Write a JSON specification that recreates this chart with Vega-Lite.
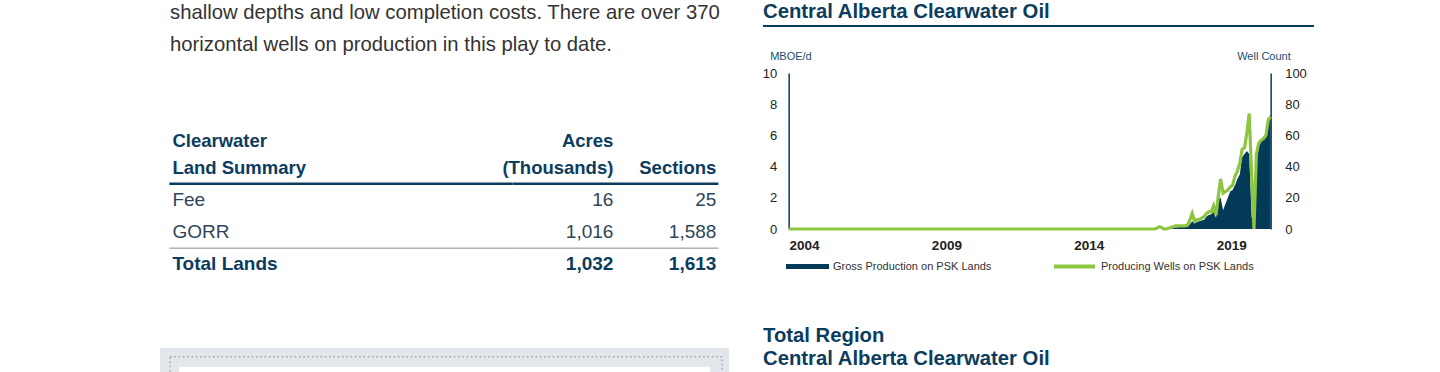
{
  "$schema": "https://vega.github.io/schema/vega-lite/v6.json",
  "padding": {"left": 160, "top": 0, "right": 0, "bottom": 0},
  "config": {
    "font": "Liberation Sans",
    "view": {"stroke": null},
    "axis": {"labelFont": "Liberation Sans", "titleFont": "Liberation Sans"},
    "legend": {"labelFont": "Liberation Sans", "labelFontSize": 11, "labelColor": "#333333", "padding": 0, "labelOffset": 4, "title": null}
  },
  "datasets": {
    "paragraph": [
      {"line": "1", "text": "shallow depths and low completion costs. There are over 370"},
      {"line": "2", "text": "horizontal wells on production in this play to date."}
    ],
    "header": [
      {"row": "header", "label": ["Clearwater", "Land Summary"], "acres": ["Acres", "(Thousands)"], "sections": ["", "Sections"]}
    ],
    "land": [
      {"row": "Fee", "label": "Fee", "acres": 16, "sections": 25},
      {"row": "GORR", "label": "GORR", "acres": 1016, "sections": 1588},
      {"row": "Total Lands", "label": "Total Lands", "acres": 1032, "sections": 1613}
    ],
    "rules": [{"after": "header"}, {"after": "GORR"}],
    "panel": [{"panel": "box"}],
    "headings": [{"title": "Central Alberta Clearwater Oil"}],
    "headings2": [{"title": ["Total Region", "Central Alberta Clearwater Oil"]}],
    "production": [
      {"date": "2004-01-01", "prod": 0, "wells": 0},
      {"date": "2005-01-01", "prod": 0, "wells": 0},
      {"date": "2006-01-01", "prod": 0, "wells": 0},
      {"date": "2007-01-01", "prod": 0, "wells": 0},
      {"date": "2008-01-01", "prod": 0, "wells": 0},
      {"date": "2009-01-01", "prod": 0, "wells": 0},
      {"date": "2010-01-01", "prod": 0, "wells": 0},
      {"date": "2011-01-01", "prod": 0, "wells": 0},
      {"date": "2012-01-01", "prod": 0, "wells": 0},
      {"date": "2013-01-01", "prod": 0, "wells": 0},
      {"date": "2014-01-01", "prod": 0, "wells": 0},
      {"date": "2015-01-01", "prod": 0, "wells": 0},
      {"date": "2016-01-01", "prod": 0, "wells": 0},
      {"date": "2016-02-01", "prod": 0, "wells": 0},
      {"date": "2016-03-01", "prod": 0, "wells": 0},
      {"date": "2016-04-01", "prod": 0, "wells": 0},
      {"date": "2016-05-01", "prod": 0, "wells": 0},
      {"date": "2016-06-01", "prod": 0, "wells": 0},
      {"date": "2016-07-01", "prod": 0, "wells": 0},
      {"date": "2016-08-01", "prod": 0, "wells": 0},
      {"date": "2016-09-01", "prod": 0, "wells": 0},
      {"date": "2016-10-01", "prod": 0, "wells": 0},
      {"date": "2016-11-01", "prod": 0, "wells": 0},
      {"date": "2016-12-01", "prod": 0, "wells": 0.5},
      {"date": "2017-01-01", "prod": 0, "wells": 1.5},
      {"date": "2017-02-01", "prod": 0, "wells": 1},
      {"date": "2017-03-01", "prod": 0, "wells": 0},
      {"date": "2017-04-01", "prod": 0, "wells": 0},
      {"date": "2017-05-01", "prod": 0.02, "wells": 0.5},
      {"date": "2017-06-01", "prod": 0.05, "wells": 1},
      {"date": "2017-07-01", "prod": 0.08, "wells": 1.5},
      {"date": "2017-08-01", "prod": 0.1, "wells": 2},
      {"date": "2017-09-01", "prod": 0.12, "wells": 2},
      {"date": "2017-10-01", "prod": 0.15, "wells": 2},
      {"date": "2017-11-01", "prod": 0.15, "wells": 2},
      {"date": "2017-12-01", "prod": 0.18, "wells": 2},
      {"date": "2018-01-01", "prod": 0.2, "wells": 2.5},
      {"date": "2018-02-01", "prod": 0.3, "wells": 6},
      {"date": "2018-03-01", "prod": 0.5, "wells": 10},
      {"date": "2018-04-01", "prod": 0.35, "wells": 5},
      {"date": "2018-05-01", "prod": 0.45, "wells": 6},
      {"date": "2018-06-01", "prod": 0.5, "wells": 6},
      {"date": "2018-07-01", "prod": 0.55, "wells": 7},
      {"date": "2018-08-01", "prod": 0.6, "wells": 8},
      {"date": "2018-09-01", "prod": 0.8, "wells": 10},
      {"date": "2018-10-01", "prod": 0.9, "wells": 11},
      {"date": "2018-11-01", "prod": 0.95, "wells": 11},
      {"date": "2018-12-01", "prod": 1.1, "wells": 15},
      {"date": "2019-01-01", "prod": 0.7, "wells": 9},
      {"date": "2019-02-01", "prod": 1.9, "wells": 22},
      {"date": "2019-03-01", "prod": 2.0, "wells": 32},
      {"date": "2019-04-01", "prod": 1.2, "wells": 23},
      {"date": "2019-05-01", "prod": 1.6, "wells": 24},
      {"date": "2019-06-01", "prod": 2.0, "wells": 25},
      {"date": "2019-07-01", "prod": 2.4, "wells": 27},
      {"date": "2019-08-01", "prod": 2.5, "wells": 28},
      {"date": "2019-09-01", "prod": 2.8, "wells": 34},
      {"date": "2019-10-01", "prod": 3.2, "wells": 37},
      {"date": "2019-11-01", "prod": 3.5, "wells": 42},
      {"date": "2019-12-01", "prod": 4.6, "wells": 51},
      {"date": "2020-01-01", "prod": 4.8, "wells": 52},
      {"date": "2020-02-01", "prod": 5.0, "wells": 62},
      {"date": "2020-03-01", "prod": 4.8, "wells": 74},
      {"date": "2020-04-01", "prod": 0.8, "wells": 35},
      {"date": "2020-05-01", "prod": 0, "wells": 0},
      {"date": "2020-06-01", "prod": 4.3, "wells": 48},
      {"date": "2020-07-01", "prod": 5.3, "wells": 55},
      {"date": "2020-08-01", "prod": 5.7, "wells": 57},
      {"date": "2020-09-01", "prod": 5.9, "wells": 58},
      {"date": "2020-10-01", "prod": 6.1, "wells": 60},
      {"date": "2020-11-01", "prod": 6.8, "wells": 70},
      {"date": "2020-12-01", "prod": 7.4, "wells": 72}
    ]
  },
  "bounds": "full",
  "spacing": 33,
  "hconcat": [
    {
      "bounds": "full",
      "center": true,
      "spacing": 67.4,
      "vconcat": [
        {
          "width": 569,
          "height": 64,
          "data": {"name": "paragraph"},
          "mark": {"type": "text", "align": "left", "baseline": "middle", "fontSize": 20.3, "color": "#333333", "dx": 10, "dy": -3},
          "encoding": {
            "x": {"datum": 0, "type": "quantitative", "scale": {"domain": [0, 1]}, "axis": null},
            "y": {"field": "line", "type": "nominal", "scale": {"domain": ["1", "2"], "paddingInner": 0, "paddingOuter": 0}, "axis": null},
            "text": {"field": "text"}
          }
        },
        {
          "bounds": "flush",
          "spacing": 0,
          "hconcat": [
            {
              "width": 343,
              "height": 129,
              "layer": [
                {
                  "data": {"name": "header"},
                  "mark": {"type": "text", "align": "left", "baseline": "middle", "fontSize": 18.5, "fontWeight": "bold", "color": "#0c3c5e", "dx": 3, "dy": -27, "lineHeight": 27},
                  "encoding": {
                    "x": {"datum": 0, "type": "quantitative", "scale": {"domain": [0, 1]}, "axis": null},
                    "y": {"field": "row", "type": "nominal", "scale": {"domain": ["header", "Fee", "GORR", "Total Lands"], "paddingInner": 0, "paddingOuter": 0}, "axis": null},
                    "text": {"field": "label"}
                  }
                },
                {
                  "data": {"name": "land"},
                  "transform": [{"filter": "datum.row !== 'Total Lands'"}],
                  "mark": {"type": "text", "align": "left", "baseline": "middle", "fontSize": 19, "color": "#2e4559", "dx": 3},
                  "encoding": {
                    "x": {"datum": 0, "type": "quantitative", "scale": {"domain": [0, 1]}, "axis": null},
                    "y": {"field": "row", "type": "nominal", "axis": null},
                    "text": {"field": "label"}
                  }
                },
                {
                  "data": {"name": "land"},
                  "transform": [{"filter": "datum.row === 'Total Lands'"}],
                  "mark": {"type": "text", "align": "left", "baseline": "middle", "fontSize": 19, "fontWeight": "bold", "color": "#0c3c5e", "dx": 3},
                  "encoding": {
                    "x": {"datum": 0, "type": "quantitative", "scale": {"domain": [0, 1]}, "axis": null},
                    "y": {"field": "row", "type": "nominal", "axis": null},
                    "text": {"field": "label"}
                  }
                },
                {
                  "data": {"name": "rules"},
                  "mark": {"type": "rule"},
                  "encoding": {
                    "y": {"field": "after", "type": "nominal", "bandPosition": 1, "axis": null},
                    "strokeWidth": {"field": "after", "type": "nominal", "scale": {"domain": ["header", "GORR"], "range": [2.5, 1]}, "legend": null},
                    "color": {"field": "after", "type": "nominal", "scale": {"domain": ["header", "GORR"], "range": ["#0c3c5e", "#8a8a8a"]}, "legend": null}
                  }
                }
              ]
            },
            {
              "width": 206,
              "height": 129,
              "layer": [
                {
                  "data": {"name": "header"},
                  "transform": [{"fold": ["acres", "sections"], "as": ["col", "value"]}],
                  "mark": {"type": "text", "align": "right", "baseline": "middle", "fontSize": 18.5, "fontWeight": "bold", "color": "#0c3c5e", "dx": 49.5, "dy": -27, "lineHeight": 27},
                  "encoding": {
                    "x": {"field": "col", "type": "nominal", "scale": {"domain": ["acres", "sections"], "paddingInner": 0, "paddingOuter": 0}, "axis": null},
                    "y": {"field": "row", "type": "nominal", "scale": {"domain": ["header", "Fee", "GORR", "Total Lands"], "paddingInner": 0, "paddingOuter": 0}, "axis": null},
                    "text": {"field": "value"}
                  }
                },
                {
                  "data": {"name": "land"},
                  "transform": [{"filter": "datum.row !== 'Total Lands'"}, {"fold": ["acres", "sections"], "as": ["col", "value"]}],
                  "mark": {"type": "text", "align": "right", "baseline": "middle", "fontSize": 19, "color": "#2e4559", "dx": 49.5},
                  "encoding": {
                    "x": {"field": "col", "type": "nominal", "axis": null},
                    "y": {"field": "row", "type": "nominal", "axis": null},
                    "text": {"field": "value", "type": "quantitative", "format": ","}
                  }
                },
                {
                  "data": {"name": "land"},
                  "transform": [{"filter": "datum.row === 'Total Lands'"}, {"fold": ["acres", "sections"], "as": ["col", "value"]}],
                  "mark": {"type": "text", "align": "right", "baseline": "middle", "fontSize": 19, "fontWeight": "bold", "color": "#0c3c5e", "dx": 49.5},
                  "encoding": {
                    "x": {"field": "col", "type": "nominal", "axis": null},
                    "y": {"field": "row", "type": "nominal", "axis": null},
                    "text": {"field": "value", "type": "quantitative", "format": ","}
                  }
                },
                {
                  "data": {"name": "rules"},
                  "mark": {"type": "rule"},
                  "encoding": {
                    "y": {"field": "after", "type": "nominal", "bandPosition": 1, "axis": null},
                    "strokeWidth": {"field": "after", "type": "nominal", "scale": {"domain": ["header", "GORR"], "range": [2.5, 1]}, "legend": null},
                    "color": {"field": "after", "type": "nominal", "scale": {"domain": ["header", "GORR"], "range": ["#0c3c5e", "#8a8a8a"]}, "legend": null}
                  }
                }
              ]
            }
          ]
        },
        {
          "width": 569,
          "height": 60,
          "view": {"fill": "#e3e6ea", "stroke": null},
          "data": {"name": "panel"},
          "layer": [
            {
              "mark": {"type": "rect", "filled": false, "stroke": "#9aa6b0", "strokeWidth": 1.5, "strokeDash": [1.5, 2.8]},
              "encoding": {
                "x": {"datum": 0.0176, "type": "quantitative", "scale": {"domain": [0, 1]}, "axis": null},
                "x2": {"datum": 0.9877},
                "y": {"datum": 0.15, "type": "quantitative", "scale": {"domain": [0, 1], "reverse": true}, "axis": null},
                "y2": {"datum": 1}
              }
            },
            {
              "mark": {"type": "rect", "color": "#ffffff"},
              "encoding": {
                "x": {"datum": 0.0334, "type": "quantitative", "axis": null},
                "x2": {"datum": 0.9666},
                "y": {"datum": 0.317, "type": "quantitative", "axis": null},
                "y2": {"datum": 1}
              }
            }
          ]
        }
      ]
    },
    {
      "bounds": "full",
      "center": true,
      "spacing": 23,
      "vconcat": [
        {
          "width": 569,
          "height": 27,
          "data": {"name": "headings"},
          "layer": [
            {
              "mark": {"type": "text", "align": "left", "baseline": "middle", "fontSize": 20.3, "fontWeight": "bold", "color": "#0c3c5e", "dx": 0},
              "encoding": {
                "x": {"datum": 0, "type": "quantitative", "scale": {"domain": [0, 1]}, "axis": null},
                "y": {"datum": 0.44, "type": "quantitative", "scale": {"domain": [0, 1], "reverse": true}, "axis": null},
                "text": {"field": "title"}
              }
            },
            {
              "mark": {"type": "rule", "color": "#0c3c5e", "strokeWidth": 2},
              "encoding": {
                "x": {"datum": 0, "type": "quantitative"},
                "x2": {"datum": 0.9684},
                "y": {"datum": 0.96, "type": "quantitative", "axis": null}
              }
            }
          ]
        },
        {
          "width": 482,
          "height": 156,
          "data": {"name": "production"},
          "layer": [
            {
              "mark": {"type": "area", "interpolate": "linear"},
              "encoding": {
                "x": {
                  "field": "date", "type": "temporal",
                  "scale": {"type": "utc", "domain": [{"year": 2004, "month": 1, "date": 1, "utc": true}, {"year": 2020, "month": 12, "date": 1, "utc": true}]},
                  "axis": {
                    "values": [
                      {"year": 2004, "month": 7, "date": 15, "utc": true},
                      {"year": 2009, "month": 7, "date": 15, "utc": true},
                      {"year": 2014, "month": 7, "date": 15, "utc": true},
                      {"year": 2019, "month": 7, "date": 15, "utc": true}
                    ],
                    "format": "%Y", "title": null, "grid": false, "ticks": false, "domain": false,
                    "labelFontSize": 13.5, "labelFontWeight": "bold", "labelColor": "#222222", "labelPadding": 9, "labelFlush": false
                  }
                },
                "y": {
                  "field": "prod", "type": "quantitative",
                  "scale": {"domain": [0, 10]},
                  "axis": {
                    "orient": "left", "values": [0, 2, 4, 6, 8, 10], "grid": false, "ticks": false,
                    "domain": true, "domainColor": "#0c3c5e", "domainWidth": 1.5,
                    "labelFontSize": 13, "labelColor": "#222222", "labelPadding": 12,
                    "title": "MBOE/d", "titleAngle": 0, "titleX": -19, "titleY": -16.5, "titleAlign": "left", "titleBaseline": "middle",
                    "titleFontSize": 11, "titleFontWeight": "normal", "titleColor": "#1d4d6e"
                  }
                },
                "fill": {
                  "datum": "Gross Production on PSK Lands", "type": "nominal",
                  "scale": {"range": ["#033a58"]},
                  "legend": {"orient": "none", "legendX": 626, "legendY": 245, "symbolType": "M-1,-0.12H1V0.12H-1Z", "symbolSize": 1849, "symbolStrokeWidth": 0}
                }
              }
            },
            {
              "mark": {"type": "line", "strokeWidth": 3.2, "interpolate": "linear"},
              "encoding": {
                "x": {"field": "date", "type": "temporal"},
                "y": {
                  "field": "wells", "type": "quantitative",
                  "scale": {"domain": [0, 100]},
                  "axis": {
                    "orient": "right", "values": [0, 20, 40, 60, 80, 100], "grid": false, "ticks": false,
                    "domain": true, "domainColor": "#0c3c5e", "domainWidth": 1.5,
                    "labelFontSize": 13, "labelColor": "#222222", "labelPadding": 14,
                    "title": "Well Count", "titleAngle": 0, "titleX": -34, "titleY": -16.5, "titleAlign": "left", "titleBaseline": "middle",
                    "titleFontSize": 11, "titleFontWeight": "normal", "titleColor": "#1d4d6e"
                  }
                },
                "stroke": {
                  "datum": "Producing Wells on PSK Lands", "type": "nominal",
                  "scale": {"range": ["#8dc540"]},
                  "legend": {"orient": "none", "legendX": 892, "legendY": 244, "symbolType": "stroke", "symbolSize": 1681, "symbolStrokeWidth": 4}
                }
              }
            }
          ],
          "resolve": {"scale": {"y": "independent"}, "axis": {"y": "independent"}}
        },
        {
          "width": 569,
          "height": 100,
          "data": {"name": "headings2"},
          "layer": [
            {
              "mark": {"type": "text", "align": "left", "baseline": "top", "fontSize": 20.3, "fontWeight": "bold", "color": "#0c3c5e", "dx": 0, "lineHeight": 23},
              "encoding": {
                "x": {"datum": 0, "type": "quantitative", "scale": {"domain": [0, 1]}, "axis": null},
                "y": {"datum": 0.51, "type": "quantitative", "scale": {"domain": [0, 1], "reverse": true}, "axis": null},
                "text": {"field": "title"}
              }
            },
            {
              "mark": {"type": "rule", "color": "#0c3c5e", "strokeWidth": 2},
              "encoding": {
                "x": {"datum": 0, "type": "quantitative"},
                "x2": {"datum": 0.9684},
                "y": {"datum": 1, "type": "quantitative", "axis": null}
              }
            }
          ]
        }
      ]
    }
  ]
}
